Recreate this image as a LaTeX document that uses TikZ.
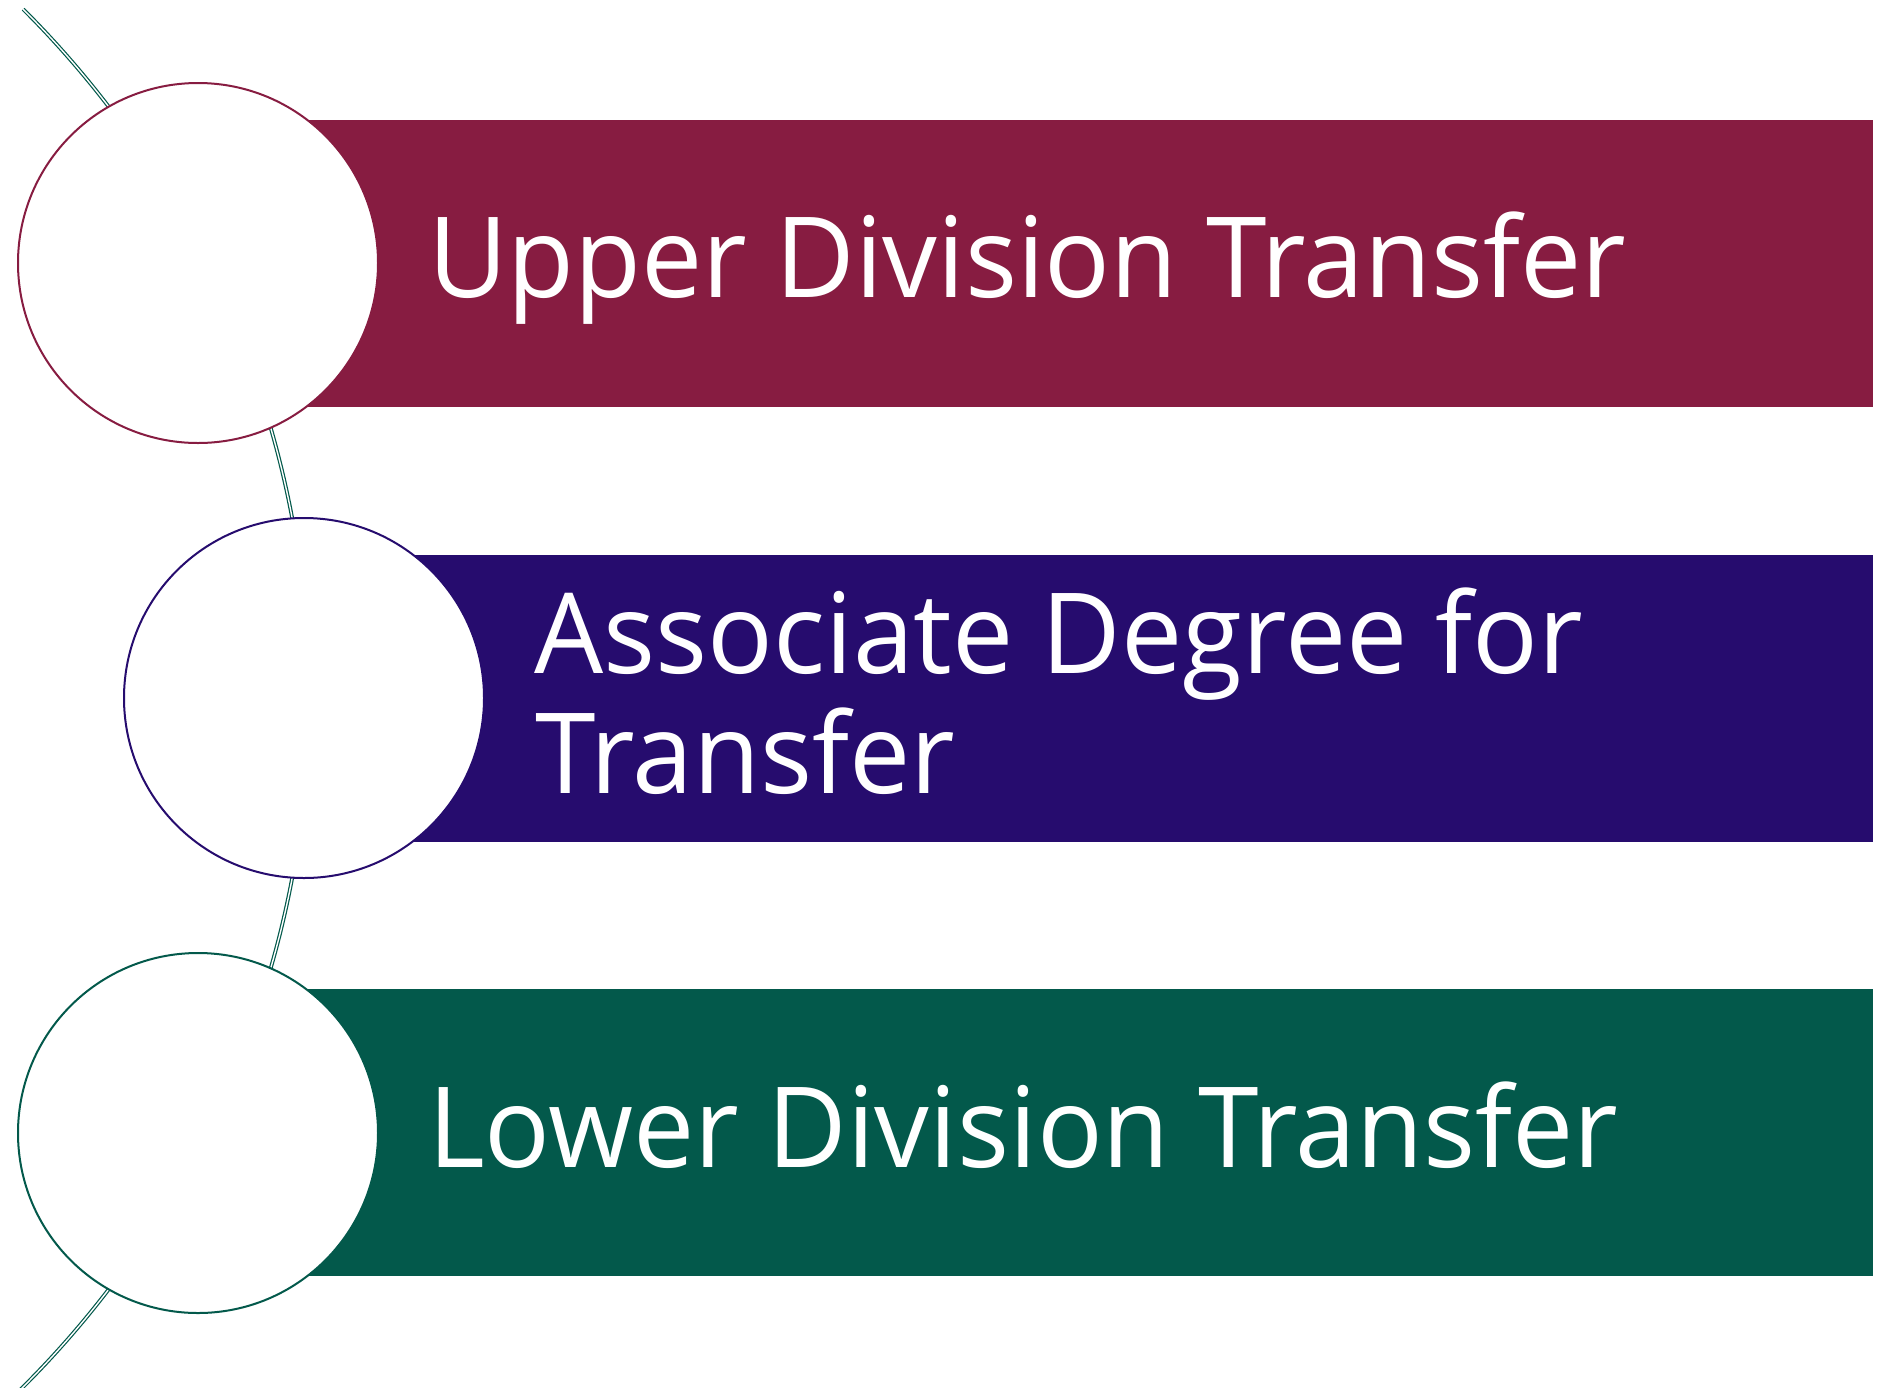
\documentclass[tikz,border=0pt]{standalone}
\usepackage{fontspec}
\newfontfamily\labelfont[FakeStretch=0.975]{Open Sans}
\definecolor{cmaroon}{RGB}{135,28,65}
\definecolor{cpurple}{RGB}{38,12,110}
\definecolor{cgreen}{RGB}{3,89,75}
\begin{document}
\begin{tikzpicture}[x=1pt,y=-1pt,
  band/.style={rectangle,draw=none,anchor=north west,minimum height=287pt,minimum width=1675pt,inner sep=0pt},
  disc/.style={circle,fill=white,line width=2pt,minimum size=360pt,inner sep=0pt},
  lbl/.style={anchor=base west,text=white,inner sep=0pt,font=\labelfont\fontsize{112}{120}\selectfont}]
\useasboundingbox (0,0) rectangle (1884,1387);
\begin{scope}
\clip (0,0) rectangle (1884,1387);
\coordinate (arcc) at (-664,698);
\draw[cgreen,line width=1.2pt,double=white,double distance=1.4pt] (arcc) ++(-45.07:973) arc[start angle=-45.07,end angle=46,radius=973];
\end{scope}
\node[band,fill=cmaroon] (b1) at (198,120) {};
\node[band,fill=cpurple,minimum width=1569pt] (b2) at (304,555) {};
\node[band,fill=cgreen] (b3) at (198,989) {};
\node[disc,draw=cmaroon] (c1) at (198,263) {};
\node[disc,draw=cpurple] (c2) at (304,698) {};
\node[disc,draw=cgreen] (c3) at (198,1133) {};
\node[lbl] (t1) at (428,297) {Upper Division Transfer};
\node[lbl] (t2a) at (534,673) {Associate Degree for};
\node[lbl] (t2b) at (535,793) {Transfer};
\node[lbl] (t3) at (428,1167) {Lower Division Transfer};
\end{tikzpicture}
\end{document}
